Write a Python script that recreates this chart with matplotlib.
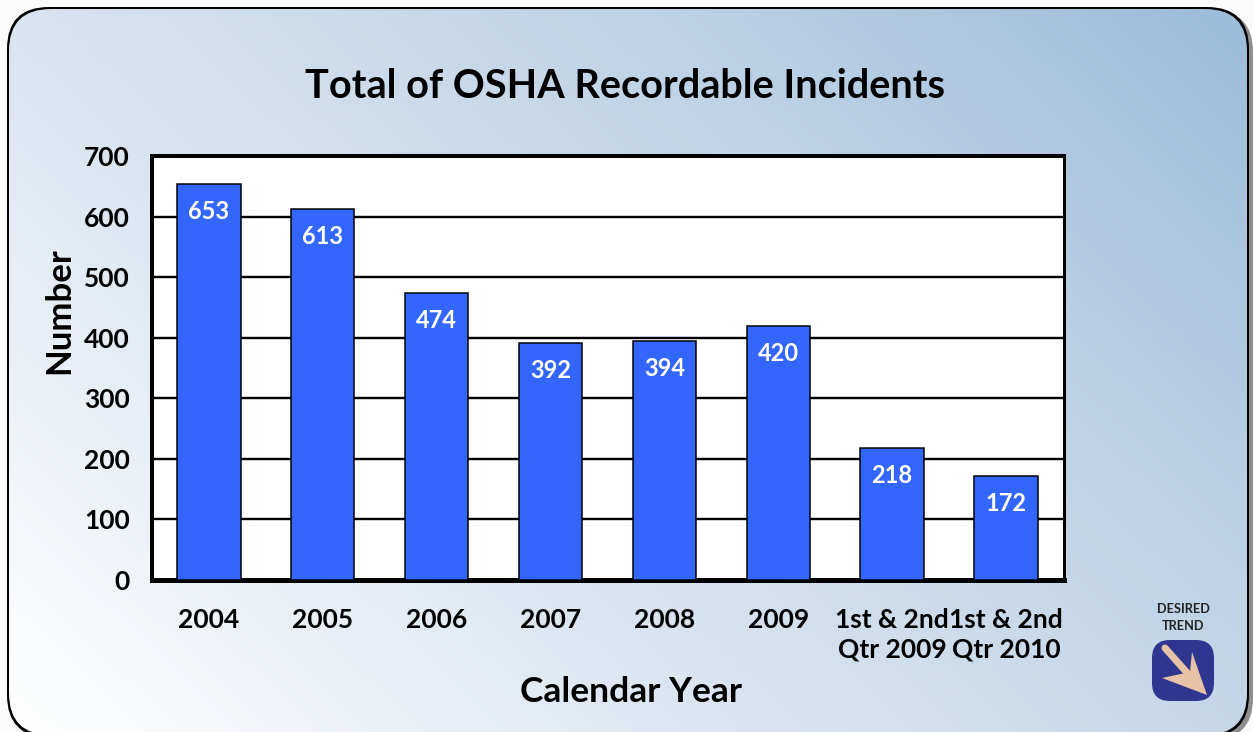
import numpy as np
import matplotlib
matplotlib.use("Agg")
import matplotlib.pyplot as plt
from matplotlib.colors import LinearSegmentedColormap
from matplotlib.patches import FancyBboxPatch, Polygon

plt.rcParams['font.family'] = ['Lato', 'DejaVu Sans']

categories = ['2004', '2005', '2006', '2007', '2008', '2009',
              '1st & 2nd\nQtr 2009', '1st & 2nd\nQtr 2010']
incidents = [653, 613, 474, 392, 394, 420, 218, 172]
yticks = [0, 100, 200, 300, 400, 500, 600, 700]

W, H = 1253, 732
px = 0.72  # one pixel in points at dpi 100

fig = plt.figure(figsize=(W/100, H/100), dpi=100, facecolor='#fbfbfb')

# background layer in pixel coords
bg = fig.add_axes([0, 0, 1, 1], zorder=0)
bg.axis('off')

# shadow and border are filled shapes, the gradient sits on top inset by the border width
round_box = dict(boxstyle='round,pad=0,rounding_size=42', ec='none')
bg.add_patch(FancyBboxPatch((10, 10), 1243, 730, fc='#8e8e8e', zorder=1, **round_box))
bg.add_patch(FancyBboxPatch((7, 7), 1242, 730, fc='black', zorder=1.5, **round_box))

# diagonal gradient, white bottom left to blue top right
gx, gy = np.meshgrid(np.linspace(0, 1, 400), np.linspace(0, 1, 240))
grad = 0.62*gx + 0.38*gy
cmap = LinearSegmentedColormap.from_list('panel', [(0, '#ffffff'), (0.35, '#dce6f1'),
                                                   (0.7, '#bdd2e6'), (1, '#9bbbd8')])
im = bg.imshow(grad[::-1], extent=(0, W, H, 0), origin='upper', cmap=cmap, vmin=0, vmax=1,
               aspect='auto', zorder=2)
clip = FancyBboxPatch((9, 9), 1238, 726, fc='none', **round_box)
bg.add_patch(clip)
im.set_clip_path(clip)
bg.set_xlim(0, W)
bg.set_ylim(H, 0)

# desired trend badge
bg.text(1183, 609, 'DESIRED', ha='center', va='center', fontsize=9.2, fontweight='bold', color='#222222', zorder=4)
bg.text(1183, 626, 'TREND', ha='center', va='center', fontsize=9.2, fontweight='bold', color='#222222', zorder=4)
bg.add_patch(FancyBboxPatch((1152, 640), 62, 61, boxstyle='round,pad=0,rounding_size=18',
                            fc='#2e3690', ec='none', zorder=4))
bg.plot([1165, 1190], [648, 676], color='#e6c2a6', lw=7*px, solid_capstyle='round', zorder=5)
bg.add_patch(Polygon([(1207, 695), (1192, 652), (1190, 672), (1162, 678)], closed=True,
                     fc='#e6c2a6', ec='none', zorder=5))

# chart
ax = fig.add_axes([152/W, 1-580/H, (1064-152)/W, (580-156)/H], zorder=2, facecolor='white')
x = np.arange(len(categories))
ax.bar(x, incidents, width=0.555, color='#3366ff', edgecolor='black', linewidth=1.5*px, zorder=3)
ax.set_xlim(-0.5, len(categories)-0.49)
ax.set_ylim(0, 700)
ax.set_yticks(yticks)
ax.set_xticks(x, categories)
ax.yaxis.grid(True, color='black', lw=2.4*px, zorder=1)
ax.set_axisbelow(True)
ax.tick_params(axis='both', length=0, labelsize=19)
ax.tick_params(axis='y', pad=16)
ax.tick_params(axis='x', pad=20.5)
for lab in ax.get_xticklabels() + ax.get_yticklabels():
    lab.set_fontweight('bold')
    lab.set_color('black')
for lab in ax.get_xticklabels():
    lab.set_linespacing(1.25)
for s, w in zip(['top', 'left', 'bottom', 'right'], [4, 4, 5, 3]):
    ax.spines[s].set_linewidth(w*px)
    ax.spines[s].set_color('black')

for xi, v in zip(x, incidents):
    ax.annotate(str(v), (xi, v), xytext=(0, -27.5*px), textcoords='offset points', ha='center', va='center',
                color='white', fontsize=17, fontweight='bold', zorder=4)

fig.text(625/W, 1-86/H, 'Total of OSHA Recordable Incidents', ha='center', va='center',
         fontsize=28.5, fontweight='bold', color='black')
fig.text(631/W, 1-692/H, 'Calendar Year', ha='center', va='center', fontsize=25.5, fontweight='bold', color='black')
fig.text(59/W, 1-311/H, 'Number', ha='center', va='center', rotation=90, fontsize=25, fontweight='bold', color='black')

fig.savefig('out.png', dpi=100, facecolor=fig.get_facecolor())
